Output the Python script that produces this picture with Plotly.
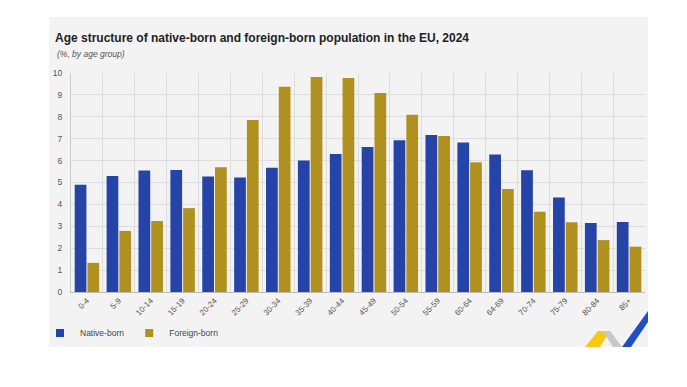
import plotly.graph_objects as go

age_groups = ["0-4", "5-9", "10-14", "15-19", "20-24", "25-29", "30-34", "35-39", "40-44",
              "45-49", "50-54", "55-59", "60-64", "64-69", "70-74", "75-79", "80-84", "85+"]
native_born = [4.9, 5.3, 5.55, 5.57, 5.27, 5.23, 5.67, 6.0, 6.3,
               6.62, 6.93, 7.17, 6.83, 6.28, 5.56, 4.31, 3.15, 3.2]
foreign_born = [1.33, 2.79, 3.24, 3.83, 5.7, 7.85, 9.37, 9.82, 9.77,
                9.09, 8.09, 7.12, 5.93, 4.7, 3.67, 3.18, 2.37, 2.07]

BLUE = "#2644A7"
GOLD = "#B09120"
FONT = "Liberation Sans, Arial, sans-serif"

W, H = 687, 387
L, R, T, B = 71, 645, 73, 292


def px(x):
    return (x - L) / (R - L)


def py(y):
    return (B - y) / (B - T)


fig = go.Figure()
fig.add_trace(go.Bar(name="Native-born", x=age_groups, y=native_born, marker_color=BLUE,
                     marker_line_width=0, showlegend=False, legendgroup="n"))
fig.add_trace(go.Bar(name="Foreign-born", x=age_groups, y=foreign_born, marker_color=GOLD,
                     marker_line_width=0, showlegend=False, legendgroup="f"))
# legend entries with small square swatches
fig.add_trace(go.Scatter(name="Native-born", x=[None], y=[None], mode="markers",
                         marker=dict(symbol="square", size=8, color=BLUE), legendgroup="n"))
fig.add_trace(go.Scatter(name="Foreign-born", x=[None], y=[None], mode="markers",
                         marker=dict(symbol="square", size=8, color=GOLD), legendgroup="f"))

shapes = [
    dict(type="rect", xref="paper", yref="paper", x0=px(49), x1=px(648), y0=py(347), y1=py(17),
         fillcolor="#f3f3f3", line_width=0, layer="below"),
    # decorative logo
    dict(type="path", xref="paper", yref="paper",
         path=f"M {px(585)} {py(347)} L {px(598)} {py(331)} L {px(610)} {py(331)} L {px(600)} {py(347)} Z",
         fillcolor="#F6C913", line_width=0),
    dict(type="path", xref="paper", yref="paper",
         path=f"M {px(603)} {py(331)} L {px(610)} {py(331)} L {px(622)} {py(347)} L {px(613)} {py(347)} Z",
         fillcolor="#c8c8c8", line_width=0),
    dict(type="path", xref="paper", yref="paper",
         path=f"M {px(622)} {py(347)} L {px(648)} {py(311)} L {px(648)} {py(322)} L {px(631)} {py(347)} Z",
         fillcolor="#1f4fc4", line_width=0),
]

fig.update_layout(
    width=W, height=H,
    margin=dict(l=L, r=W - R, t=T, b=H - B, pad=0),
    paper_bgcolor="white",
    plot_bgcolor="#f3f3f3",
    barmode="group",
    bargap=0.2,
    bargroupgap=0.08,
    font=dict(family=FONT, color="#444444", size=9),
    title=dict(text="<b>Age structure of native-born and foreign-born population in the EU, 2024</b>",
               x=55 / W, xanchor="left", y=1 - 38 / H, yanchor="middle",
               font=dict(family=FONT, size=12, color="#222222")),
    showlegend=True,
    legend=dict(orientation="h", x=px(40), xanchor="left", y=py(333), yanchor="middle",
                font=dict(family=FONT, size=8.5, color="#444444"), bgcolor="rgba(0,0,0,0)",
                itemwidth=30, traceorder="normal", itemclick=False, itemdoubleclick=False),
    shapes=shapes,
    annotations=[dict(text="<i>(%, by age group)</i>", xref="paper", yref="paper",
                      x=px(55), y=py(54), xanchor="left", yanchor="middle", showarrow=False,
                      font=dict(family=FONT, size=8.5, color="#555555"))],
)

fig.update_xaxes(tickangle=-45, tickson="boundaries", showgrid=True, gridcolor="#dddddd",
                 gridwidth=1, showline=True, linecolor="#bbbbbb", ticks="",
                 tickfont=dict(size=8, color="#555555"))
fig.update_yaxes(range=[0, 10], dtick=1, showgrid=True, gridcolor="#dddddd", gridwidth=1,
                 showline=True, linecolor="#cccccc", zeroline=False, ticks="",
                 tickfont=dict(size=8.5, color="#555555"), ticklabelstandoff=6)

fig.write_html("out.html", config={"displayModeBar": False},
               post_script="document.body.style.margin='0';")
